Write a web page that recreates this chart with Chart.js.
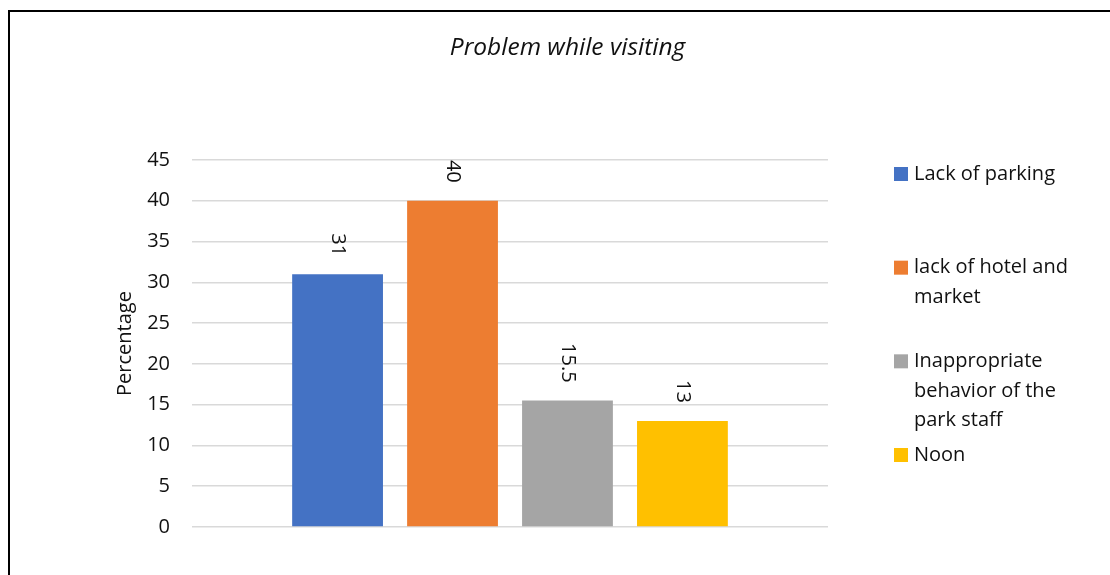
<!DOCTYPE html>
<html>
<head>
<meta charset="utf-8">
<script src="https://cdn.jsdelivr.net/npm/chart.js@4.4.1/dist/chart.umd.min.js"></script>
<style>
  html, body { margin: 0; padding: 0; background: #fff; }
  .chart-wrap { position: relative; width: 1110px; height: 575px; }
</style>
</head>
<body>
<div class="chart-wrap"><canvas id="problems"></canvas></div>
<script>
const CHART_TITLE = 'Problem while visiting';
const AXIS_TITLE = 'Percentage';

const problems = ['Lack of parking', 'lack of hotel and market', 'Inappropriate behavior of the park staff', 'Noon'];
const percentages = [31, 40, 15.5, 13];
const barColors = ['#4472C4', '#ED7D31', '#A5A5A5', '#FFC000'];

const Y_MIN = 0;
const Y_MAX = 45;
const Y_STEP = 5;

const FONT = '"Open Sans", Lato, sans-serif';
const TEXT = '#111';

// wrap a legend label into lines that fit maxWidth
const wrapText = (ctx, text, maxWidth) => {
  const lines = [];
  let line = '';
  text.split(' ').forEach((word) => {
    const next = line ? `${line} ${word}` : word;
    if (line && ctx.measureText(next).width > maxWidth) {
      lines.push(line);
      line = word;
    } else {
      line = next;
    }
  });
  lines.push(line);
  return lines;
};

// outer frame and the italic title, centred on the frame like the original
const framePlugin = {
  id: `frame`,
  beforeDraw(chart) {
    const {ctx} = chart;
    ctx.save();
    ctx.strokeStyle = '#000';
    ctx.lineWidth = 2;
    ctx.strokeRect(9, 11, 1117, 700);
    ctx.font = `italic 24.5px ${FONT}`;
    ctx.fillStyle = TEXT;
    ctx.textAlign = 'center';
    ctx.textBaseline = 'middle';
    ctx.fillText(CHART_TITLE, 9 + 1117 / 2, 48);
    ctx.restore();
  }
};

// value labels, turned 90 degrees, above each bar
const valueLabels = {
  id: `valueLabels`,
  afterDatasetsDraw(chart) {
    const {ctx} = chart;
    ctx.save();
    ctx.font = `20px ${FONT}`;
    ctx.fillStyle = TEXT;
    ctx.textAlign = 'right';
    ctx.textBaseline = 'middle';
    chart.data.datasets.forEach((ds, i) => {
      chart.getDatasetMeta(i).data.forEach((bar, j) => {
        ctx.save();
        ctx.translate(bar.x, bar.y - 18);
        ctx.rotate(Math.PI / 2);
        ctx.fillText(String(ds.data[j]), 0, 0);
        ctx.restore();
      });
    });
    ctx.restore();
  }
};

// legend on the right, items spread down the plot height
const sideLegend = {
  id: `sideLegend`,
  afterDraw(chart) {
    const {ctx, chartArea} = chart;
    const boxX = chartArea.right + 66;
    const textX = boxX + 20;
    const step = (chartArea.bottom - chartArea.top - 86) / 3;
    ctx.save();
    ctx.font = `20px ${FONT}`;
    ctx.textBaseline = 'middle';
    chart.data.datasets.forEach((ds, i) => {
      const y = chartArea.top + 14 + i * step;
      ctx.fillStyle = ds.backgroundColor;
      ctx.fillRect(boxX, y - 7, 14, 14);
      ctx.fillStyle = TEXT;
      wrapText(ctx, ds.label, 172).forEach((line, j) => {
        ctx.fillText(line, textX, y + j * 29.5);
      });
    });
    ctx.restore();
  }
};

const datasets = problems.map((name, i) => ({
  label: name,
  data: [percentages[i]],
  backgroundColor: barColors[i],
  borderWidth: 0,
  categoryPercentage: 0.723,
  barPercentage: 0.79
}));

new Chart(document.getElementById('problems'), {
  type: 'bar',
  data: {
    labels: [''],
    datasets
  },
  options: {
    responsive: true,
    maintainAspectRatio: false,
    animation: false,
    layout: {
      padding: {left: 0, right: 282, top: 160, bottom: 48}
    },
    plugins: {
      legend: {display: false},
      title: {display: false},
      tooltip: {enabled: false}
    },
    scales: {
      x: {
        display: false
      },
      y: {
        min: Y_MIN,
        max: Y_MAX,
        afterFit(scale) {
          scale.width = 192;
        },
        ticks: {
          stepSize: Y_STEP,
          padding: 22,
          color: TEXT,
          font: {family: FONT, size: 20}
        },
        grid: {
          color: '#d9d9d9',
          lineWidth: 1.5,
          drawTicks: false
        },
        border: {display: false},
        title: {
          display: true,
          text: AXIS_TITLE,
          color: TEXT,
          font: {family: FONT, size: 20},
          padding: {top: 113, bottom: 0}
        }
      }
    }
  },
  plugins: [framePlugin, valueLabels, sideLegend]
});
</script>
</body>
</html>
